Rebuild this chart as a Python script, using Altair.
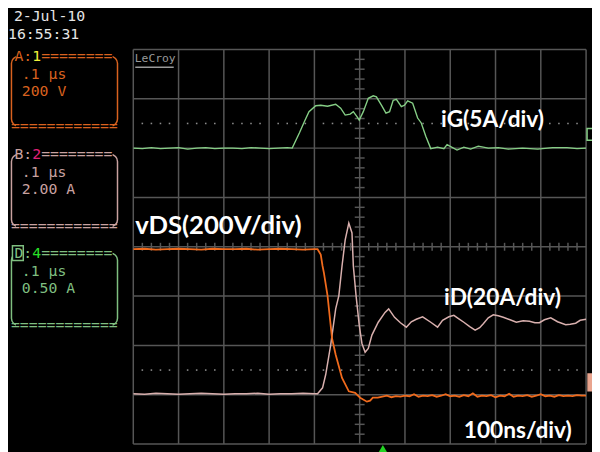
import altair as alt
import pandas as pd

# ---------------- waveform data (time in ns, amplitude in divisions) ----------------
ig_t = [-500, -480, -460, -440, -420, -400, -380, -360, -340, -320, -300, -280, -260, -240, -220, -200, -180, -160,
        -149, -133, -122, -112, -97, -86, -71, -53, -42, -32,
        -21, -14, -6, -1, 8, 19, 30, 37, 48, 58,
        66, 74, 81, 92, 99, 106, 117, 128, 136, 146,
        157, 172, 186, 193, 215, 230, 245, 262, 284, 306,
        328, 360, 393, 426, 458, 480, 500]
ig_v = [2.00, 1.99, 2.01, 1.99, 2.00, 2.01, 1.98, 2.00, 2.01, 1.99, 2.00, 2.00, 1.99, 2.01, 2.00, 1.99, 2.00, 2.01,
        2.00, 2.31, 2.54, 2.74, 2.86, 2.87, 2.85, 2.89, 2.81, 2.67,
        2.69, 2.74, 2.64, 2.57, 2.74, 3.01, 3.06, 3.04, 2.87, 2.71,
        2.74, 2.97, 2.99, 2.84, 2.87, 2.96, 2.91, 2.61, 2.51, 2.24,
        1.99, 2.02, 1.99, 2.07, 1.96, 2.02, 1.98, 2.04, 2.00, 2.01,
        1.98, 2.00, 1.98, 2.01, 2.01, 1.99, 2.00]

vds_t = [-500, -475, -450, -425, -400, -375, -350, -325, -300, -275, -250, -225, -200, -175, -150, -125, -100,
         -93, -86, -82, -79, -71, -61, -53, -39, -24, -10, 1, 16, 23, 29,
         40, 50, 60, 70, 80, 90, 100, 110, 120, 130, 140, 150, 160, 170, 180, 190, 200, 210, 220, 230,
         240, 250, 260, 270, 280, 290, 300, 310, 320, 330, 340, 350, 360, 370, 380, 390, 400, 410, 420,
         430, 440, 450, 460, 470, 480, 490, 500]
vds_v = [-0.05, -0.04, -0.06, -0.05, -0.04, -0.05, -0.06, -0.04, -0.05, -0.05, -0.04, -0.06, -0.05, -0.04, -0.05, -0.06, -0.05,
         -0.05, -0.16, -0.39, -0.53, -0.99, -1.86, -2.19, -2.66, -2.93, -2.96, -3.06, -3.14, -3.12, -3.06,
         -3.06, -3.04, -3.02, -3.05, -3.03, -3.04, -3.02, -3.03, -2.99, -3.04, -3.02, -3.03, -3.01, -3.04, -3.02, -2.99, -3.03, -3.02, -3.04, -3.01,
         -3.03, -2.97, -3.04, -3.02, -3.03, -3.01, -3.05, -3.02, -3.03, -2.98, -3.04, -3.02, -3.03, -3.01, -3.04, -3.02, -2.99, -3.03, -3.02,
         -3.04, -3.01, -3.03, -3.02, -3.03, -3.01, -3.02, -3.02]

id_t = [-500, -475, -450, -425, -400, -375, -350, -325, -300, -275, -250, -225, -200, -175, -150, -125, -100,
        -93, -82, -75, -64, -53, -46, -39, -32, -24, -17, -14, -8, -1, 5, 12, 19, 27, 41, 56, 64,
        77, 90, 103, 114, 125, 139, 157, 172, 183, 197, 208, 219, 230, 243, 255, 265, 273, 284,
        295, 306, 317, 332, 346, 361, 375, 387, 397, 408, 422, 437, 455, 465, 477, 487, 500]
id_v = [-2.98, -2.99, -2.97, -2.98, -2.99, -2.98, -2.97, -2.98, -2.99, -2.98, -2.98, -2.97, -2.99, -2.98, -2.98, -2.97, -2.98,
        -2.98, -2.86, -2.59, -1.99, -1.26, -0.99, -0.39, 0.14, 0.48, 0.28, -0.39, -0.99, -1.59, -1.96, -2.14, -2.06, -1.79, -1.53, -1.33, -1.26,
        -1.43, -1.54, -1.63, -1.52, -1.47, -1.42, -1.53, -1.63, -1.49, -1.42, -1.39, -1.46, -1.53, -1.62, -1.69, -1.64, -1.56, -1.44,
        -1.38, -1.40, -1.43, -1.48, -1.53, -1.50, -1.51, -1.54, -1.54, -1.48, -1.44, -1.52, -1.58, -1.57, -1.55, -1.49, -1.47]

annotations = ["iG(5A/div)", "vDS(200V/div)", "iD(20A/div)", "100ns/div)"]
date_lines = ["2-Jul-10", "16:55:31"]
chan_labels = ["A", "B", "D"]
chan_nums = ["1", "2", "4"]
chan_time = [".1 \u00b5s", ".1 \u00b5s", ".1 \u00b5s"]
chan_scale = ["200 V", "2.00 A", "0.50 A"]

assert len(ig_t) == len(ig_v) and len(vds_t) == len(vds_v) and len(id_t) == len(id_v)

# ---------------- layout ----------------
OX, OY = 135, 47          # plot origin on the page
W, H = 459, 400
GRID = "#565656"
C_ORANGE = "#f06a1c"
C_PINK = "#d9b0ae"
C_GREEN = "#86cf86"
BOX_A = "#d9621f"
BOX_B = "#c9a2a0"
BOX_D = "#7fbf80"


def px(x):
    return x - OX


def py(y):
    return y - OY


xs = alt.Scale(domain=[-500, 500], nice=False, zero=False)
ys = alt.Scale(domain=[-4, 4], nice=False, zero=False)
X = lambda f: alt.X(f, scale=xs, axis=None)
Y = lambda f: alt.Y(f, scale=ys, axis=None)

grid_t = list(range(-500, 501, 100))
grid_v = list(range(-4, 5))
minor_t = [t for t in range(-480, 500, 20) if t % 100 != 0]
minor_v = [round(-4 + 0.2 * i, 1) for i in range(41) if i % 5 != 0]

vgrid = alt.Chart(pd.DataFrame({"t": grid_t})).mark_rule(color=GRID, strokeWidth=1.5).encode(x=X("t:Q"))
hgrid = alt.Chart(pd.DataFrame({"v": grid_v})).mark_rule(color=GRID, strokeWidth=1.5).encode(y=Y("v:Q"))

dots_df = pd.DataFrame([{"t": t, "v": v} for v in (2.5, -2.5) for t in minor_t])
dots = alt.Chart(dots_df).mark_square(size=2.5, color="#8c8c8c", opacity=1).encode(x=X("t:Q"), y=Y("v:Q"))

vticks = alt.Chart(pd.DataFrame({"v": minor_v})).mark_rule(color=GRID, strokeWidth=1.5).encode(
    y=Y("v:Q"), x=alt.value(W / 2 - 5), x2=alt.value(W / 2 + 5))
hticks = alt.Chart(pd.DataFrame({"t": minor_t})).mark_rule(color=GRID, strokeWidth=1.5).encode(
    x=X("t:Q"), y=alt.value(H / 2 - 4), y2=alt.value(H / 2 + 4))


def wave(t, v, color, w):
    return alt.Chart(pd.DataFrame({"t": t, "v": v})).mark_line(color=color, strokeWidth=w, clip=True).encode(
        x=X("t:Q"), y=Y("v:Q"), order="t:Q")


green = wave(ig_t, ig_v, C_GREEN, 1.4)
pink = wave(id_t, id_v, C_PINK, 1.5)
orange = wave(vds_t, vds_v, C_ORANGE, 1.8)

# ---------------- annotations ----------------
ann_df = pd.DataFrame({
    "x": [px(447), px(137), px(450), px(470)],
    "y": [py(126), py(234), py(306), py(441)],
    "text": annotations,
    "size": [23, 26, 23, 23],
})
ann = alt.Chart(ann_df).mark_text(font="Lato", fontWeight="bold", align="left", baseline="alphabetic",
                                  color="white").encode(
    x=alt.X("x:Q", scale=None), y=alt.Y("y:Q", scale=None), text="text:N", size=alt.Size("size:Q", scale=None))

# ---------------- left panel ----------------
CW = 15 * 0.602
box_top = [54, 153.5, 253.5]
box_bot = [124.5, 226.5, 326.5]
box_col = [BOX_A, BOX_B, BOX_D]
num_col = ["#f2f23a", "#e0207a", "#28e028"]
lab_col = [BOX_A, BOX_B, BOX_D]

boxes_df = pd.DataFrame({"x": [px(11.5)] * 3, "x2": [px(119)] * 3,
                         "y": [py(v) for v in box_top], "y2": [py(v) for v in box_bot], "c": box_col})
boxes = alt.Chart(boxes_df).mark_rect(fillOpacity=0, strokeWidth=1.5, cornerRadius=7).encode(
    x=alt.X("x:Q", scale=None), x2="x2:Q", y=alt.Y("y:Q", scale=None), y2="y2:Q",
    stroke=alt.Stroke("c:N", scale=None))

cov_rows = []
for t_, b_ in zip(box_top, box_bot):
    cov_rows.append({"x": px(16), "x2": px(114), "y": py(t_ - 4), "y2": py(t_ + 4)})
    cov_rows.append({"x": px(16), "x2": px(114), "y": py(b_ - 4), "y2": py(b_ + 4)})
covers = alt.Chart(pd.DataFrame(cov_rows)).mark_rect(color="black").encode(
    x=alt.X("x:Q", scale=None), x2="x2:Q", y=alt.Y("y:Q", scale=None), y2="y2:Q")

mono_rows = [
    {"x": px(14), "y": py(13.5), "text": date_lines[0], "c": "#e6e6e6"},
    {"x": px(8), "y": py(31.5), "text": date_lines[1], "c": "#e6e6e6"},
]
for i in range(3):
    x0 = 14.5
    mono_rows.append({"x": px(x0), "y": py(box_top[i]), "text": chan_labels[i] + ":", "c": lab_col[i]})
    mono_rows.append({"x": px(x0 + 2 * CW), "y": py(box_top[i]), "text": chan_nums[i], "c": num_col[i]})
    mono_rows.append({"x": px(x0 + 3 * CW), "y": py(box_top[i]), "text": "=" * 8, "c": box_col[i]})
    mono_rows.append({"x": px(11), "y": py(box_bot[i]), "text": "=" * 12, "c": box_col[i]})
    mono_rows.append({"x": px(22), "y": py(box_top[i] + 18), "text": chan_time[i], "c": box_col[i]})
    mono_rows.append({"x": px(22), "y": py(box_top[i] + 35.5), "text": chan_scale[i], "c": box_col[i]})
mono = alt.Chart(pd.DataFrame(mono_rows)).mark_text(font="DejaVu Sans Mono", fontSize=15, align="left",
                                                    baseline="middle").encode(
    x=alt.X("x:Q", scale=None), y=alt.Y("y:Q", scale=None), text="text:N", color=alt.Color("c:N", scale=None))

# small frame around the "D" label and right-hand markers
small_df = pd.DataFrame({
    "x": [px(12.5), px(595), px(596)],
    "x2": [px(23.5), px(604), px(604)],
    "y": [py(246), py(127), py(376)],
    "y2": [py(261), py(139), py(393)],
    "f": ["black", "black", "#e9a48e"],
    "c": [BOX_D, "#86cf86", "#e9a48e"],
})
small = alt.Chart(small_df).mark_rect(strokeWidth=1.5).encode(
    x=alt.X("x:Q", scale=None), x2="x2:Q", y=alt.Y("y:Q", scale=None), y2="y2:Q",
    fill=alt.Fill("f:N", scale=None), stroke=alt.Stroke("c:N", scale=None))

logo = alt.Chart(pd.DataFrame({"x": [px(136.5)], "y": [py(57)], "text": ["LeCroy"]})).mark_text(
    font="DejaVu Sans Mono", fontSize=11.5, align="left", baseline="middle", color="#9a9a9a").encode(
    x=alt.X("x:Q", scale=None), y=alt.Y("y:Q", scale=None), text="text:N")
logo_line = alt.Chart(pd.DataFrame({"x": [px(137)], "x2": [px(176)], "y": [py(65)]})).mark_rule(
    color="#9a9a9a", strokeWidth=1.5).encode(x=alt.X("x:Q", scale=None), x2="x2:Q", y=alt.Y("y:Q", scale=None))

trig = alt.Chart(pd.DataFrame({"x": [px(388)], "y": [py(452)]})).mark_point(
    shape="triangle-up", filled=True, size=90, color="#22d422", opacity=1).encode(
    x=alt.X("x:Q", scale=None), y=alt.Y("y:Q", scale=None))

chart = alt.layer(
    vgrid, hgrid, dots, vticks, hticks, logo, logo_line,
    green, pink, orange, ann,
    boxes, covers, small, mono, trig,
).properties(
    width=W, height=H, background="black",
    autosize=alt.AutoSizeParams(type="none"),
    padding={"left": OX - 8, "top": OY - 8, "right": 600 - 8 - (OX - 8) - W, "bottom": 452 - 8 - (OY - 8) - H},
).configure_view(stroke=None)

chart.save("out.html", embed_options={"renderer": "svg", "actions": False})
